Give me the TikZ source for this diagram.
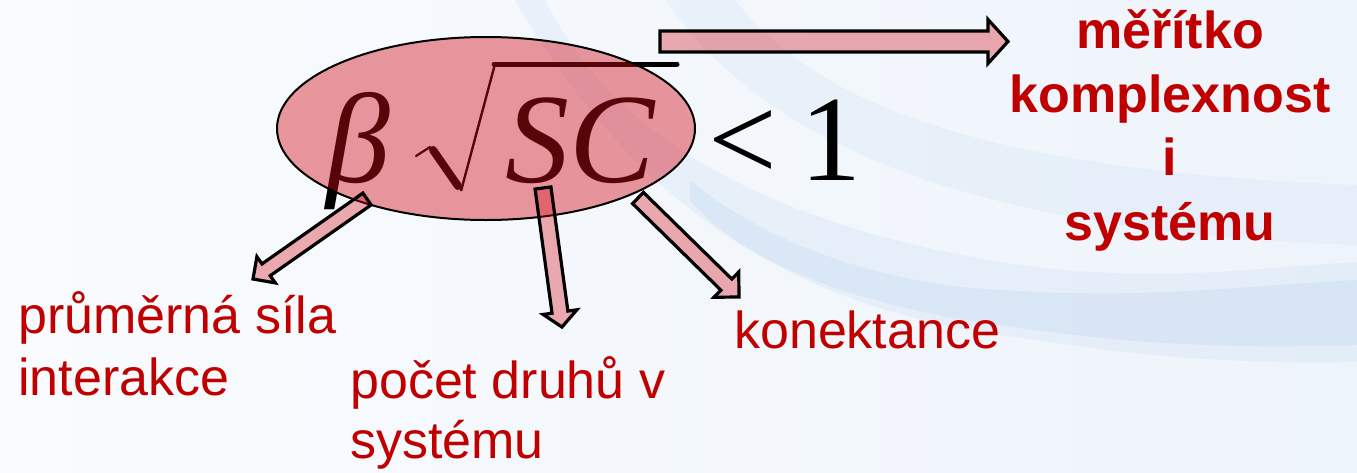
\documentclass[tikz,border=0pt]{standalone}
\usepackage{fontspec}
\setmainfont{Liberation Serif}
\newfontfamily\arialf{Liberation Sans}
\usetikzlibrary{calc,shapes.geometric}
\definecolor{lab}{RGB}{192,0,0}
\definecolor{bg}{RGB}{238,244,251}
\definecolor{swA}{RGB}{190,213,240}
\definecolor{swB}{RGB}{214,229,246}
\definecolor{hatch}{RGB}{212,12,24}
\tikzset{
  lbl/.style={font=\arialf\fontsize{52}{60}\selectfont, text=lab, inner sep=0pt, anchor=base west},
  lblb/.style={font=\arialf\bfseries\fontsize{52}{60}\selectfont, text=lab, inner sep=0pt, anchor=base},
  frm/.style={font=\fontsize{128}{140}\selectfont, inner sep=0pt, anchor=base},
  frmb/.style={font=\fontsize{122}{140}\selectfont, inner sep=0pt, anchor=base},
  barrowfill/.style={fill=hatch, fill opacity=0.34},
  barrowline/.style={draw=black, opacity=1, line width=3.2pt, line join=miter},
  ellbox/.style={ellipse, draw=black, line width=2pt, fill=hatch, fill opacity=0.42, inner sep=0pt,
                 minimum width=418pt, minimum height=183pt},
}
\newcommand\blockarr[5]{%
  \coordinate (#1n) at ($(#2)!#5!(#1)$);
  \coordinate (#1p1) at ($(#1)!#3!90:(#2)$);
  \coordinate (#1p2) at ($(#1n)!#3!90:(#2)$);
  \coordinate (#1p3) at ($(#1n)!#4!90:(#2)$);
  \coordinate (#1p4) at ($(#1n)!#4!-90:(#2)$);
  \coordinate (#1p5) at ($(#1n)!#3!-90:(#2)$);
  \coordinate (#1p6) at ($(#1)!#3!-90:(#2)$);
  \fill[barrowfill] (#1p1) -- (#1p2) -- (#1p3) -- (#2) -- (#1p4) -- (#1p5) -- (#1p6) -- cycle;
  \draw[barrowline] (#1p1) -- (#1p2) -- (#1p3) -- (#2) -- (#1p4) -- (#1p5) -- (#1p6) -- cycle;}
\begin{document}
\begin{tikzpicture}[x=1pt,y=-1pt]
\useasboundingbox (0,0) rectangle (1357,472);
% background
\shade[left color=bg!35!white, right color=bg] (0,0) rectangle (1357,472);
\fill[swB, opacity=0.35] (735,0) .. controls (810,95) and (960,170) .. (1357,185)
  -- (1357,245) .. controls (950,232) and (760,135) .. (665,0) -- cycle;
\fill[swA, opacity=0.22] (545,0) .. controls (600,110) and (720,215) .. (1000,262)
  .. controls (1150,285) and (1250,268) .. (1357,262) -- (1357,362)
  .. controls (1200,365) and (1100,350) .. (1000,335)
  .. controls (760,300) and (620,180) .. (515,0) -- cycle;
\fill[swA, opacity=0.3] (690,180) .. controls (760,240) and (880,285) .. (1000,290)
  .. controls (1150,300) and (1250,285) .. (1357,280) -- (1357,345)
  .. controls (1200,350) and (1100,340) .. (1000,325)
  .. controls (850,305) and (740,260) .. (690,200) -- cycle;
% formula
\node[frm] (beta) at (358,182) {\itshape β};
\node[frm] (sc) at (580,182) {\itshape SC};
\node[frmb] (lt) at (743,180) {<};
\node[frmb] (one) at (831,180) {1};
\draw[line width=2.2pt, line cap=round] (416,156) -- (430,147);
\draw[line width=8pt, line cap=round] (433,150) -- (458,186);
\draw[line width=2.4pt, line join=miter] (461,191) -- (495,64);
\draw[line width=5pt, line cap=round] (494,64) -- (677,64);
% ellipse
\node[ellbox] (el) at (486,128.5) {};
% coordinates of arrows
\coordinate (ta) at (660,41.5);   \coordinate (ha) at (1008,41.5);
\coordinate (tb) at (367,199);    \coordinate (hb) at (253,279);
\coordinate (tc) at (543,188);    \coordinate (hc) at (562,327);
\coordinate (td) at (638,198);    \coordinate (hd) at (739,297);
\blockarr{ta}{ha}{10.5pt}{22pt}{20pt}
\blockarr{tb}{hb}{7.2pt}{16pt}{16pt}
\blockarr{tc}{hc}{8pt}{17pt}{15pt}
\blockarr{td}{hd}{7.8pt}{17.7pt}{17.7pt}
% labels
\node[lbl] (l1a) at (18,333) {průměrná síla};
\node[lbl] (l1b) at (18,395) {interakce};
\node[lbl] (l2a) at (350,398) {počet druhů v};
\node[lbl] (l2b) at (350,458) {systému};
\node[lbl] (l3) at (734,348) {konektance};
\node[lblb] (r1) at (1170,48) {měřítko};
\node[lblb] (r2) at (1170,112) {komplexnost};
\node[lblb] (r3) at (1170,175) {i};
\node[lblb] (r4) at (1170,240) {systému};
\end{tikzpicture}
\end{document}
